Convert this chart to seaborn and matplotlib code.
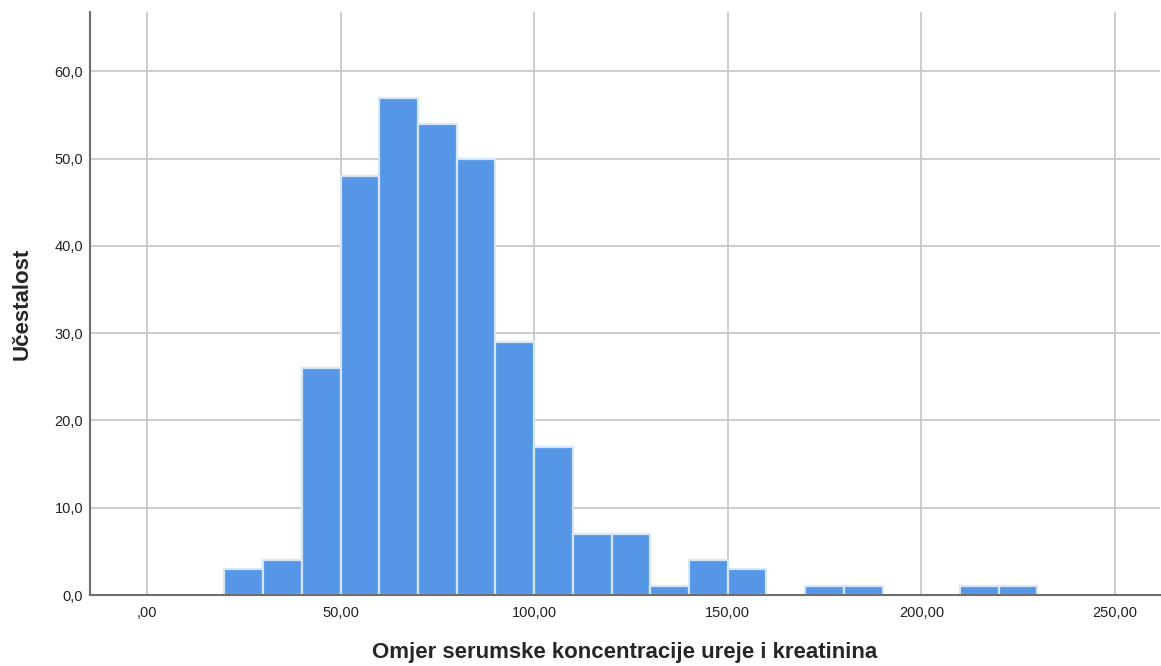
import numpy as np
import matplotlib
matplotlib.use("Agg")
import matplotlib.pyplot as plt
import seaborn as sns
from matplotlib.ticker import FuncFormatter

# histogram bins (width 10) and counts
bin_edges = list(range(20, 240, 10))
counts = [3, 4, 26, 48, 57, 54, 50, 29, 17, 7, 7, 1, 4, 3, 0, 1, 1, 0, 0, 1, 1]
centers = [e + 5 for e in bin_edges[:-1]]

x_ticks = [0, 50, 100, 150, 200, 250]
y_ticks = [0, 10, 20, 30, 40, 50, 60]

sns.set_style("white")
plt.rcParams['font.family'] = ['Liberation Sans', 'DejaVu Sans']

fig = plt.figure(figsize=(11.61, 6.66), dpi=100)
ax = fig.add_axes([0.0775, 0.1066, 0.9215, 0.8754])

sns.histplot(x=centers, weights=counts, bins=bin_edges, color='#5596e6',
             edgecolor='#d6e6fa', linewidth=1.6, alpha=1, ax=ax)

ax.set_xlim(-14.7, 261.6)
ax.set_ylim(0, 66.8)
ax.set_xticks(x_ticks)
ax.set_yticks(y_ticks)
ax.xaxis.set_major_formatter(FuncFormatter(
    lambda v, p: ',00' if v == 0 else f'{v:.2f}'.replace('.', ',')))
ax.yaxis.set_major_formatter(FuncFormatter(lambda v, p: f'{v:.1f}'.replace('.', ',')))
ax.tick_params(axis='both', length=0, labelsize=10.5, colors='#222222')
ax.tick_params(axis='x', pad=8)
ax.tick_params(axis='y', pad=5)

ax.set_axisbelow(True)
ax.grid(True, color='#c8c8c8', linewidth=1.3)

for s in ['top', 'right']:
    ax.spines[s].set_visible(False)
for s in ['left', 'bottom']:
    ax.spines[s].set_color('#6e6e6e')
    ax.spines[s].set_linewidth(1.5)
    ax.spines[s].set_zorder(4)

ax.set_xlabel('Omjer serumske koncentracije ureje i kreatinina', fontsize=16,
              fontweight='bold', labelpad=16)
ax.set_ylabel('Učestalost', fontsize=16, fontweight='bold', labelpad=16)

fig.savefig('out.png', dpi=100)
